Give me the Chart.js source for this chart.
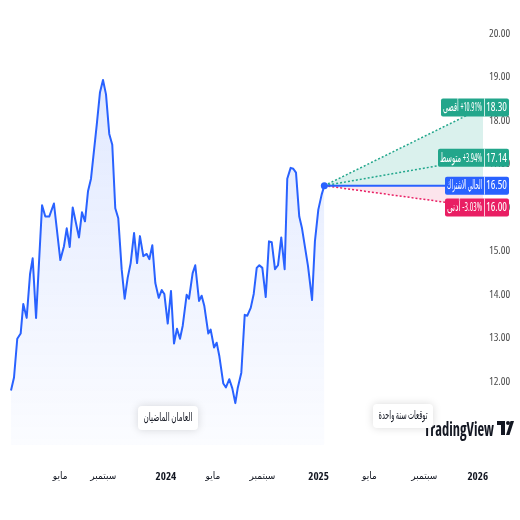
<!DOCTYPE html>
<html><head><meta charset="utf-8">
<script src="https://cdn.jsdelivr.net/npm/chart.js@4/dist/chart.umd.min.js"></script>
<style>html,body{margin:0;padding:0;background:#fff;}canvas{display:block}</style>
</head><body>
<canvas id="c" width="520" height="520"></canvas>
<script>
// ---- data (time in months since Jan 2023) ----
const histMonths = [0.23,0.46,0.71,0.97,1.17,1.43,1.69,1.89,2.15,2.61,2.86,3.16,3.52,4.01,4.29,4.50,4.73,4.96,5.44,5.67,5.90,6.13,6.36,6.80,7.05,7.28,7.51,7.76,7.99,8.22,8.45,8.71,8.94,9.17,9.40,9.66,9.89,10.11,10.37,10.63,10.83,11.06,11.29,11.55,11.78,11.98,12.24,12.49,12.72,12.95,13.18,13.39,13.69,13.87,14.15,14.35,14.64,14.84,15.04,15.35,15.53,15.79,15.99,16.19,16.50,16.70,16.96,17.19,17.42,17.60,17.88,18.14,18.34,18.60,18.83,19.06,19.26,19.49,19.75,20.00,20.21,20.46,20.69,20.94,21.20,21.40,21.66,21.86,22.07,22.32,22.53,22.99,23.30,23.52,23.78,24.04,24.24];
const histPrices = [11.79,12.09,12.98,13.10,13.78,13.46,14.47,14.83,13.46,16.05,15.79,15.79,16.09,14.79,15.11,15.52,15.09,16.00,15.31,15.89,15.68,16.37,16.66,17.90,18.65,18.93,18.60,17.69,17.44,15.98,15.75,14.58,13.90,14.38,14.72,15.41,14.72,15.34,14.88,14.93,14.81,15.13,14.26,13.92,14.10,14.01,13.33,14.08,12.87,13.21,12.98,13.28,13.99,13.90,14.49,14.67,13.85,13.97,13.74,13.10,13.19,12.78,12.89,12.59,11.95,11.86,12.05,11.84,11.50,11.84,12.20,13.53,13.51,13.69,14.01,14.61,14.67,14.61,13.94,15.22,15.20,14.58,14.67,15.31,14.58,16.66,16.91,16.89,16.80,15.79,15.52,14.65,13.87,15.22,15.95,16.30,16.50];
const currentPrice = 16.50;
const forecastEndMonth = 36.4;
const forecastValues = [18.30, 17.14, 16.00];          // max, average, min
const forecastNames = ['أقصى', 'متوسط', 'أدنى'];
const forecastPct = ['+10.91%', '+3.94%', '-3.03%'];
const currentName = ['الاشتراك', 'الحالي'];
const tickMonths = [4, 7.3, 12.1, 15.7, 19.5, 23.8, 27.7, 31.9, 36];
const tickLabels = ['مايو', 'سبتمبر', '2024', 'مايو', 'سبتمبر', '2025', 'مايو', 'سبتمبر', '2026'];
const priceTicks = [12, 13, 14, 15, 16, 17, 18, 19, 20];
const periodLabels = ['العامان الماضيان', 'توقعات سنة واحدة'];

const FAM = "'Open Sans','DejaVu Sans',sans-serif";
const BLUE = '#2962ff', TEAL = '#22a68b', PINK = '#e91e63';
const lastMonth = histMonths[histMonths.length - 1];

function seg(v) { return [{x: lastMonth, y: currentPrice}, {x: forecastEndMonth, y: v}]; }

function rr(c, x, y, w, h, r) {
  c.beginPath(); c.moveTo(x + r, y); c.lineTo(x + w - r, y); c.quadraticCurveTo(x + w, y, x + w, y + r);
  c.lineTo(x + w, y + h - r); c.quadraticCurveTo(x + w, y + h, x + w - r, y + h);
  c.lineTo(x + r, y + h); c.quadraticCurveTo(x, y + h, x, y + h - r);
  c.lineTo(x, y + r); c.quadraticCurveTo(x, y, x + r, y); c.closePath();
}

function drawSegments(c, parts, rightX, y, avail, font, color) {
  c.font = font; c.fillStyle = color; c.textBaseline = 'middle'; c.textAlign = 'left';
  const gap = 3;
  const widths = parts.map(p => c.measureText(p).width);
  const total = widths.reduce((a, b) => a + b, 0) + gap * (parts.length - 1);
  const s = Math.min(1, avail / total);
  c.save();
  c.translate(rightX - total * s, y);
  c.scale(s, 1);
  let x = 0;
  parts.forEach((p, i) => { c.fillText(p, x, 0); x += widths[i] + gap; });
  c.restore();
}

function drawTag(chart, value, leftX, parts, color) {
  const c = chart.ctx;
  const y = chart.scales.y.getPixelForValue(value);
  const right = 509, mid = 484, h = 18;
  c.save();
  rr(c, leftX, y - h / 2, right - leftX, h, 2);
  c.fillStyle = color; c.fill();
  c.strokeStyle = 'rgba(255,255,255,0.75)'; c.lineWidth = 1;
  c.beginPath(); c.moveTo(mid + 0.5, y - h / 2); c.lineTo(mid + 0.5, y + h / 2); c.stroke();
  drawSegments(c, [value.toFixed(2)], right - 2, y, right - mid - 4, 'condensed 13px ' + FAM, '#fff');
  drawSegments(c, parts, mid - 2, y, mid - leftX - 4, 'condensed 13px ' + FAM, '#fff');
  c.restore();
}

function drawBox(c, cx, cy, text) {
  c.save();
  c.font = 'condensed 12px ' + FAM;
  const tw = Math.min(c.measureText(text).width, 49);
  const w = tw + 11, h = 24;
  c.shadowColor = 'rgba(0,0,0,0.15)'; c.shadowBlur = 8;
  rr(c, cx - w / 2, cy - h / 2, w, h, 4);
  c.fillStyle = '#fff'; c.fill();
  c.shadowColor = 'transparent';
  c.fillStyle = '#131722'; c.textAlign = 'center'; c.textBaseline = 'middle';
  c.fillText(text, cx, cy, tw);
  c.restore();
}

const overlay = {
  id: 'overlay',
  afterDatasetsDraw(chart) {
    const c = chart.ctx;
    // logo
    c.save();
    c.fillStyle = '#131722';
    c.font = 'condensed bold 19px ' + FAM; c.textAlign = 'right'; c.textBaseline = 'alphabetic';
    c.fillText('TradingView', 494, 436, 70);
    c.fillRect(497, 421, 8, 4); c.fillRect(501, 421, 4, 14);
    c.beginPath(); c.arc(508, 423, 2, 0, Math.PI * 2); c.fill();
    c.beginPath(); c.moveTo(506, 435); c.lineTo(510.5, 421); c.lineTo(514, 421); c.lineTo(509.5, 435); c.closePath(); c.fill();
    c.restore();
    drawBox(c, 168, 418, periodLabels[0]);
    drawBox(c, 403, 416, periodLabels[1]);
    drawTag(chart, forecastValues[0], 441, [forecastNames[0], forecastPct[0]], TEAL);
    drawTag(chart, forecastValues[1], 438, [forecastNames[1], forecastPct[1]], TEAL);
    drawTag(chart, currentPrice, 445, currentName, BLUE);
    drawTag(chart, forecastValues[2], 445, [forecastNames[2], forecastPct[2]], PINK);
  }
};

new Chart(document.getElementById('c'), {
  type: 'line',
  data: {
    datasets: [
      {
        data: histMonths.map((m, i) => ({x: m, y: histPrices[i]})),
        borderColor: BLUE, borderWidth: 2, pointRadius: 0, tension: 0, fill: 'start',
        borderJoinStyle: 'round',
        backgroundColor: (ctx) => {
          const {chart} = ctx; const a = chart.chartArea;
          if (!a) return 'rgba(41,98,255,0.08)';
          const g = chart.ctx.createLinearGradient(0, a.top, 0, a.bottom);
          g.addColorStop(0, 'rgba(41,98,255,0.16)');
          g.addColorStop(1, 'rgba(41,98,255,0.02)');
          return g;
        }
      },
      { data: seg(currentPrice), borderColor: BLUE, borderWidth: 2, pointRadius: [3.5, 0], pointBackgroundColor: BLUE, pointBorderWidth: 0, fill: false },
      { data: seg(forecastValues[0]), borderColor: TEAL, borderWidth: 1.5, borderDash: [2, 2], pointRadius: 0, fill: {target: 1}, backgroundColor: 'rgba(34,171,148,0.17)' },
      { data: seg(forecastValues[1]), borderColor: TEAL, borderWidth: 1.5, borderDash: [2, 2], pointRadius: 0, fill: false },
      { data: seg(forecastValues[2]), borderColor: PINK, borderWidth: 1.5, borderDash: [2, 2], pointRadius: 0, fill: {target: 1}, backgroundColor: 'rgba(233,30,99,0.12)' }
    ]
  },
  options: {
    responsive: false, animation: false, devicePixelRatio: 1,
    layout: {padding: {left: 8, top: 10, right: 0, bottom: 0}},
    plugins: {legend: {display: false}, tooltip: {enabled: false}},
    scales: {
      x: {
        type: 'linear', min: 0, max: forecastEndMonth,
        grid: {display: false, drawTicks: false}, border: {display: false},
        afterBuildTicks: (s) => { s.ticks = tickMonths.map(v => ({value: v})); },
        afterFit: (s) => { s.height = 75; },
        ticks: {
          autoSkip: false, maxRotation: 0, padding: 25, color: '#131722',
          font: (ctx) => {
            const isYear = /\d/.test(tickLabels[ctx.index] || '');
            return {family: FAM, size: isYear ? 11 : 10, weight: isYear ? 'bold condensed' : 'condensed'};
          },
          callback: (v, i) => tickLabels[i]
        }
      },
      y: {
        position: 'right', min: 10.537, max: 20.48,
        grid: {display: false, drawTicks: false}, border: {display: false},
        afterBuildTicks: (s) => { s.ticks = priceTicks.map(v => ({value: v})); },
        afterFit: (s) => { s.width = 37; },
        ticks: { padding: 6, color: '#4a4a4a', font: {family: FAM, size: 11, weight: 'condensed'}, callback: (v) => Number(v).toFixed(2) }
      }
    }
  },
  plugins: [overlay]
});
</script>
</body></html>
